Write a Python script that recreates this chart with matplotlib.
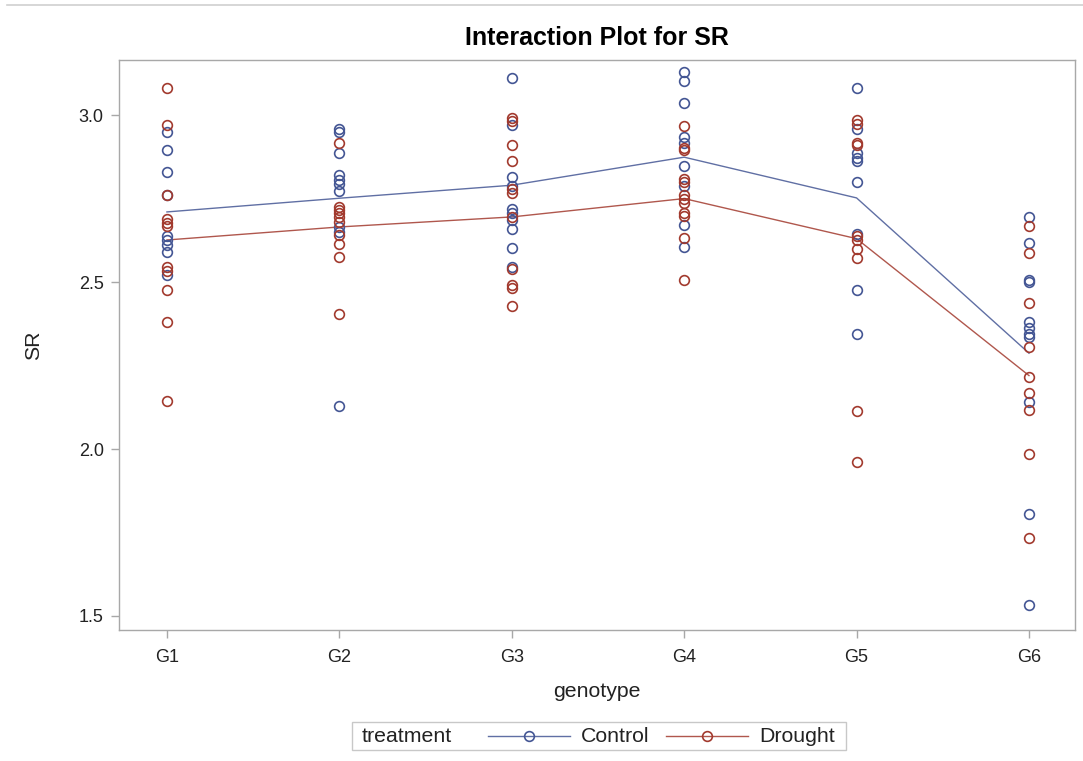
import numpy as np
import matplotlib
matplotlib.use("Agg")
import matplotlib.pyplot as plt
from matplotlib.lines import Line2D
from matplotlib.patches import Rectangle

plt.rcParams['font.family'] = ['Liberation Sans', 'DejaVu Sans']

genotypes = ['G1', 'G2', 'G3', 'G4', 'G5', 'G6']

control = {
    'G1': [2.949, 2.896, 2.829, 2.760, 2.638, 2.626, 2.611, 2.591, 2.522],
    'G2': [2.958, 2.950, 2.885, 2.820, 2.807, 2.795, 2.772, 2.666, 2.651, 2.130],
    'G3': [3.110, 2.969, 2.816, 2.789, 2.719, 2.707, 2.686, 2.659, 2.601, 2.544],
    'G4': [3.130, 3.103, 3.037, 2.933, 2.917, 2.847, 2.787, 2.671, 2.604],
    'G5': [3.080, 2.958, 2.887, 2.871, 2.862, 2.800, 2.644, 2.477, 2.343],
    'G6': [2.694, 2.616, 2.506, 2.500, 2.381, 2.361, 2.345, 2.335, 2.142, 1.804, 1.534],
}
drought = {
    'G1': [3.080, 2.971, 2.760, 2.688, 2.678, 2.668, 2.544, 2.534, 2.477, 2.381, 2.144],
    'G2': [2.917, 2.724, 2.716, 2.706, 2.694, 2.681, 2.641, 2.614, 2.574, 2.403],
    'G3': [2.990, 2.982, 2.909, 2.862, 2.780, 2.767, 2.695, 2.539, 2.492, 2.481, 2.429],
    'G4': [2.967, 2.900, 2.895, 2.810, 2.800, 2.760, 2.748, 2.736, 2.708, 2.698, 2.631, 2.506],
    'G5': [2.985, 2.974, 2.917, 2.909, 2.637, 2.626, 2.598, 2.571, 2.114, 1.962],
    'G6': [2.668, 2.586, 2.436, 2.306, 2.216, 2.167, 2.117, 1.984, 1.734],
}
# group means drawn as lines
control_mean = [2.710, 2.751, 2.790, 2.874, 2.752, 2.287]
drought_mean = [2.626, 2.665, 2.695, 2.750, 2.630, 2.220]

blue = '#445694'
red = '#A23A2E'
txt = '#222222'

W, H = 1083, 761
fig = plt.figure(figsize=(W / 100, H / 100), dpi=100)
ax = fig.add_axes([119 / W, 1 - 630 / H, (1075 - 119) / W, (630 - 60) / H])

xpos = np.arange(len(genotypes))
for data, col in [(control, blue), (drought, red)]:
    for i, g in enumerate(genotypes):
        vals = data[g]
        ax.plot([i] * len(vals), vals, 'o', ms=7, mfc='none', mec=col, mew=1.2, zorder=3)
ax.plot(xpos, control_mean, color=blue, lw=1.0, alpha=0.85, zorder=2)
ax.plot(xpos, drought_mean, color=red, lw=1.0, alpha=0.85, zorder=2)

ax.set_xlim(-0.278, 5.267)
ax.set_ylim(1.458, 3.165)
ax.set_xticks(xpos)
ax.set_xticklabels(genotypes)
ax.set_yticks([1.5, 2.0, 2.5, 3.0])
ax.set_yticklabels(['1.5', '2.0', '2.5', '3.0'])

for s in ax.spines.values():
    s.set_color('#a8a8a8')
    s.set_linewidth(1)
ax.tick_params(axis='both', colors='#a8a8a8', labelcolor=txt, labelsize=13, length=6, width=1)
ax.tick_params(axis='x', pad=7.5)
ax.tick_params(axis='y', pad=5)

ax.set_title('Interaction Plot for SR', fontsize=18, fontweight='bold', pad=11, color='black')
ax.set_xlabel('genotype', fontsize=15.3, labelpad=12, color=txt)
ax.set_ylabel('SR', fontsize=15.3, labelpad=26, color=txt)

# thin rule at the top of the page
fig.add_artist(Line2D([7 / W, 1], [1 - 5 / H, 1 - 5 / H], color='#d0d0d0', lw=1.2))

# legend box
def fx(x):
    return x / W

def fy(y):
    return 1 - y / H

fig.add_artist(Rectangle((fx(352), fy(750)), fx(846) - fx(352), fy(722) - fy(750),
                         transform=fig.transFigure, fill=False, ec='#c8c8c8', lw=1))
fig.text(fx(362), fy(736), 'treatment', fontsize=15.3, va='center', ha='left', color=txt)
for x0, col, lab in [(488, blue, 'Control'), (666, red, 'Drought')]:
    fig.add_artist(Line2D([fx(x0), fx(x0 + 82)], [fy(736), fy(736)], color=col, lw=1.0, alpha=0.85))
    fig.add_artist(Line2D([fx(x0 + 41)], [fy(736)], marker='o', ms=7, mfc='none', mec=col, mew=1.2))
    fig.text(fx(x0 + 93), fy(736), lab, fontsize=15.3, va='center', ha='left', color=txt)

fig.savefig('out.png', dpi=100)
